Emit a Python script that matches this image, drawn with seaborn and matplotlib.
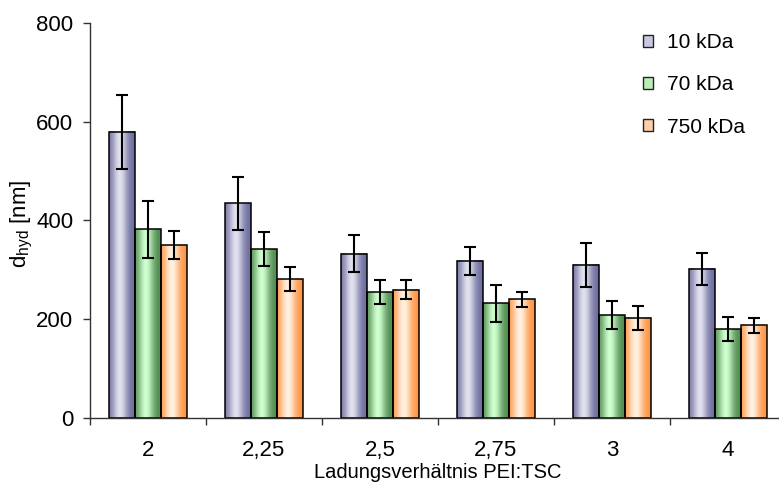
import numpy as np
import pandas as pd
import matplotlib
matplotlib.use("Agg")
import matplotlib.pyplot as plt
from matplotlib.patches import Patch
import seaborn as sns

# Hydrodynamic diameter of PEI/TSC particles by charge ratio and PEI molecular weight
ratios = ["2", "2,25", "2,5", "2,75", "3", "4"]
series = ["10 kDa", "70 kDa", "750 kDa"]
d_10k = [580, 435, 333, 318, 310, 302]
d_70k = [382, 342, 255, 232, 208, 180]
d_750k = [350, 281, 260, 240, 203, 188]
sd_10k = [75, 54, 37, 28, 45, 32]
sd_70k = [58, 34, 25, 37, 28, 25]
sd_750k = [28, 24, 20, 16, 24, 15]
y_ticks = [0, 200, 400, 600, 800]

values = [d_10k, d_70k, d_750k]
errors = [sd_10k, sd_70k, sd_750k]

df = pd.DataFrame({
    "ratio": np.repeat([ratios], 3, axis=0).ravel(),
    "d": np.concatenate(values),
    "mw": np.repeat(series, len(ratios)),
})

sns.set_theme(style="white")
plt.rcParams["font.family"] = ["Liberation Sans", "DejaVu Sans"]
plt.rcParams["mathtext.fontset"] = "custom"
plt.rcParams["mathtext.rm"] = "Liberation Sans"
plt.rcParams["text.color"] = "black"
plt.rcParams["xtick.color"] = "black"
plt.rcParams["ytick.color"] = "black"
plt.rcParams["axes.labelcolor"] = "black"

# (edge shade, highlight) for the cylinder-like gradient fill
shades = [
    ((110, 110, 160), (224, 224, 238)),
    ((82, 140, 82), (206, 255, 206)),
    ((255, 150, 70), (255, 240, 224)),
]
legend_fill = ["#C8C8E0", "#B8F0B8", "#FFD0A8"]

fig = plt.figure(figsize=(7.79, 4.84), dpi=100)
ax = fig.add_axes([0.1155, 0.1364, 0.8935, 0.8161])

sns.barplot(data=df, x="ratio", y="d", hue="mw", order=ratios, hue_order=series,
            width=0.67, edgecolor="black", linewidth=1.1, legend=False,
            errorbar=None, ax=ax, zorder=2)

t = np.linspace(0, 1, 64)
profile = np.exp(-((t - 0.42) / 0.30) ** 2)
profile = (profile - profile.min()) / (profile.max() - profile.min())

for cont, (dark, light), errs in zip(ax.containers, shades, errors):
    dark = np.array(dark) / 255.0
    light = np.array(light) / 255.0
    grad = dark[None, :] + (light - dark)[None, :] * profile[:, None]
    grad = grad[None, :, :]
    xs, ys = [], []
    for bar in cont:
        x0 = bar.get_x()
        w = bar.get_width()
        h = bar.get_height()
        bar.set_facecolor("none")
        ax.imshow(grad, extent=[x0, x0 + w, 0, h], aspect="auto",
                  interpolation="bilinear", zorder=1, origin="lower")
        xs.append(x0 + w / 2)
        ys.append(h)
    ax.errorbar(xs, ys, yerr=errs, fmt="none", ecolor="black",
                elinewidth=1.5, capsize=4.4, capthick=1.5, zorder=3)

ax.set_xlim(-0.5, len(ratios) - 0.5)
ax.set_ylim(0, 800)
ax.set_yticks(y_ticks)
ax.set_xticks(range(len(ratios)))
ax.set_xticklabels(ratios)
ax.set_xticks(np.arange(-0.5, len(ratios), 1.0), minor=True)

for side in ("top", "right"):
    ax.spines[side].set_visible(False)
for side in ("left", "bottom"):
    ax.spines[side].set_color("#333333")
    ax.spines[side].set_linewidth(1.0)

ax.tick_params(axis="y", which="major", direction="out", length=5, width=1.0,
               color="#333333", left=True, pad=7, labelsize=16)
ax.tick_params(axis="x", which="major", length=0, pad=16, labelsize=16)
ax.tick_params(axis="x", which="minor", direction="out", length=5, width=1.0,
               color="#333333", bottom=True)

ax.set_xlabel("Ladungsverhältnis PEI:TSC", fontsize=14.5, labelpad=1)
ax.set_ylabel("")
fig.text(22 / 779, 1 - 224 / 484, r"d$_{\mathregular{hyd}}$ [nm]",
         rotation=90, ha="center", va="center", fontsize=16)

handles = [Patch(facecolor=c, edgecolor="#222222", linewidth=1.0) for c in legend_fill]
ax.legend(handles, series, loc="upper left", bbox_to_anchor=(643 / 779, 1 - 33 / 484),
          bbox_transform=fig.transFigure, frameon=False, fontsize=15,
          handlelength=0.5, handleheight=0.5, handletextpad=0.65,
          labelspacing=1.12, borderpad=0, borderaxespad=0)

fig.savefig("out.png", dpi=100)
